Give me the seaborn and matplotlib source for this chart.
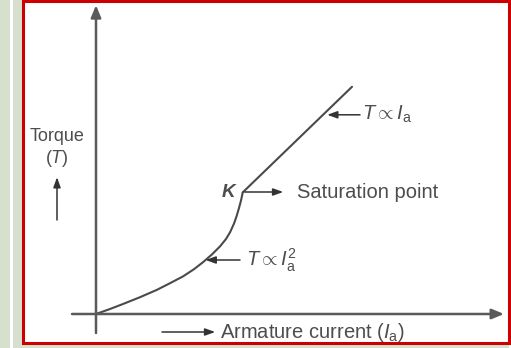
import matplotlib
matplotlib.use("Agg")
import matplotlib.pyplot as plt
from matplotlib.patches import Rectangle
import seaborn as sns

# Torque vs armature current of a DC series motor
ia_curve = [0.0, 0.35, 0.675, 1.10, 1.525, 1.85, 2.175, 2.45, 2.675, 2.90,
            3.10, 3.25, 3.35, 3.45, 3.518, 3.575, 3.618, 3.65, 3.668]
torque_curve = [0.0, 0.125, 0.25, 0.42, 0.605, 0.77, 0.94, 1.12, 1.295, 1.49,
                1.69, 1.875, 2.04, 2.26, 2.455, 2.65, 2.81, 2.95, 3.04]
ia_linear = [3.668, 6.40]
torque_linear = [3.04, 5.68]
knee_point = (3.668, 3.04)

sns.set_theme(style="white")
plt.rcParams["font.family"] = ["Liberation Sans", "DejaVu Sans"]
plt.rcParams["mathtext.fontset"] = "custom"
plt.rcParams["mathtext.rm"] = "Liberation Sans"
plt.rcParams["mathtext.it"] = "Liberation Sans:italic"

W, H = 511, 348
fig = plt.figure(figsize=(W / 100, H / 100), dpi=100)
fig.patch.set_facecolor("white")

# page background and frame
bg = fig.add_axes([0, 0, 1, 1])
bg.set_xlim(0, W)
bg.set_ylim(H, 0)
bg.axis("off")
side = "#d6e0cd"
bg.add_patch(Rectangle((0, 0), 10, H, color=side, lw=0))
bg.add_patch(Rectangle((13, 0), 9, H, color=side, lw=0))
bg.add_patch(Rectangle((13, 344), 496, 4, color=side, lw=0))
bg.add_patch(Rectangle((23, 1), 485.5, 342, fill=False, ec="#cc0000", lw=2.2))

# chart axes: 40 px per unit, origin at pixel (96, 314)
px = 40.0
x0, y0 = 96, 314
left_px, right_px, top_px, bot_px = 25, 507, 3, 341
ax = fig.add_axes([left_px / W, (H - bot_px) / H,
                   (right_px - left_px) / W, (bot_px - top_px) / H])
ax.set_xlim((left_px - x0) / px, (right_px - x0) / px)
ax.set_ylim((y0 - bot_px) / px, (y0 - top_px) / px)
ax.axis("off")
ax.patch.set_alpha(0)

axis_col = "#5a5a5a"
line_col = "#4a4a4a"
text_col = "#4d4d4d"
fs = 14.5

# coordinate axes with arrowheads
ax.annotate("", xy=(10.2, 0), xytext=(-0.6, 0),
            arrowprops=dict(arrowstyle="-|>,head_length=0.6,head_width=0.25",
                            color=axis_col, lw=1.8, shrinkA=0, shrinkB=0))
ax.annotate("", xy=(0, 7.72), xytext=(0, -0.475),
            arrowprops=dict(arrowstyle="-|>,head_length=0.6,head_width=0.25",
                            color=axis_col, lw=1.8, shrinkA=0, shrinkB=0))

# torque characteristic
sns.lineplot(x=ia_curve, y=torque_curve, sort=False, estimator=None,
             color=line_col, lw=1.5, ax=ax)
sns.lineplot(x=ia_linear, y=torque_linear, sort=False, estimator=None,
             color=line_col, lw=1.5, ax=ax)

arrow = dict(arrowstyle="-|>,head_length=0.5,head_width=0.18",
             color="#333333", lw=1.1, shrinkA=0, shrinkB=0)

# annotations
ax.annotate("", xy=(5.78, 4.98), xytext=(6.6, 4.98), arrowprops=arrow)
ax.text(6.66, 4.98, r"$T \propto I_\mathrm{a}$", fontsize=fs, color=text_col,
        ha="left", va="center")

ax.text(knee_point[0] - 0.36, knee_point[1] + 0.01, "K", fontsize=fs - 1,
        style="italic", fontweight="bold", color=text_col, ha="center", va="center")
ax.annotate("", xy=(4.68, knee_point[1] + 0.01),
            xytext=(knee_point[0] + 0.05, knee_point[1] + 0.01), arrowprops=arrow)
ax.text(5.03, knee_point[1] + 0.01, "Saturation point", fontsize=fs,
        color=text_col, ha="left", va="center")

ax.annotate("", xy=(2.74, 1.35), xytext=(3.6, 1.35), arrowprops=arrow)
ax.text(3.76, 1.35, r"$T \propto I_\mathrm{a}^2$", fontsize=fs, color=text_col,
        ha="left", va="center")

# axis labels
ax.text(-0.975, 4.45, "Torque", fontsize=13, color=text_col, ha="center", va="center")
ax.text(-0.975, 3.88, r"$(T)$", fontsize=13, color=text_col, ha="center", va="center")
ax.annotate("", xy=(-0.975, 3.42), xytext=(-0.975, 2.35), arrowprops=arrow)

ax.annotate("", xy=(2.98, -0.45), xytext=(1.65, -0.45), arrowprops=arrow)
ax.text(3.1, -0.45, r"Armature current ($I_\mathrm{a}$)", fontsize=fs,
        color=text_col, ha="left", va="center")

fig.savefig("out.png", dpi=100)
